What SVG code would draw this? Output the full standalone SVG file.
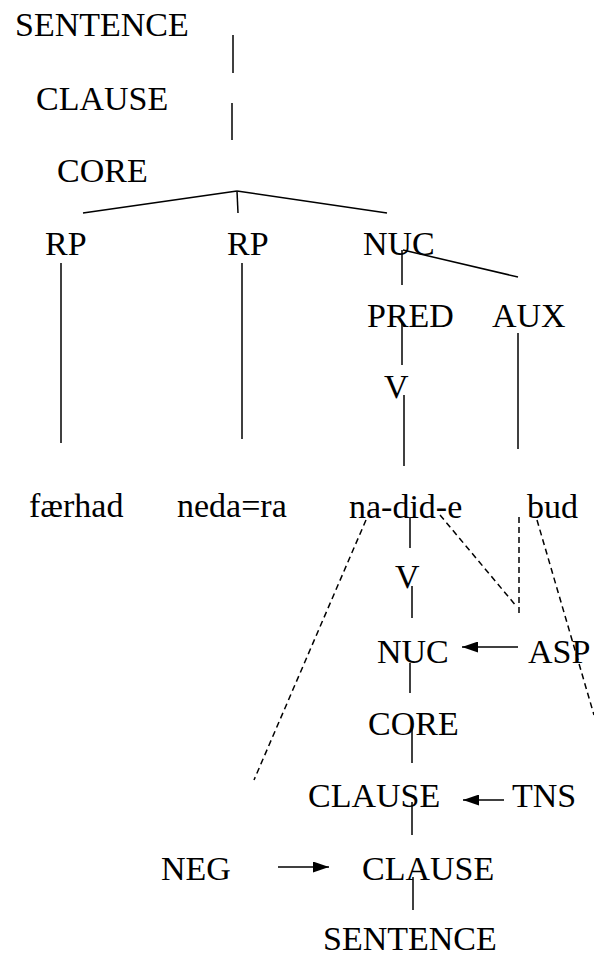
<svg xmlns="http://www.w3.org/2000/svg" width="594" height="959" viewBox="0 0 594 959">
<style>
text{font-family:"Liberation Serif","Times New Roman",serif;font-size:34px;fill:#000}
.s{stroke:#000;stroke-width:1.5;fill:none}
.d{stroke:#000;stroke-width:1.5;fill:none;stroke-dasharray:6 4}
.a{stroke:#000;stroke-width:1.5;fill:none;marker-end:url(#ah)}
</style>
<defs>
<marker id="ah" markerUnits="userSpaceOnUse" markerWidth="16" markerHeight="11" refX="16" refY="5.5" orient="auto">
<path d="M0,0 L16,5.5 L0,11 z" fill="#000"/>
</marker>
</defs>
<rect width="594" height="959" fill="#fff"/>
<g id="connectors">
<line class="s" x1="233" y1="35" x2="233" y2="73"/>
<line class="s" x1="232" y1="103" x2="232" y2="140"/>
<line class="s" x1="237" y1="191" x2="83" y2="213"/>
<line class="s" x1="237" y1="191" x2="238" y2="213"/>
<line class="s" x1="237" y1="191" x2="387" y2="213"/>
<line class="s" x1="61" y1="263" x2="61" y2="443"/>
<line class="s" x1="242" y1="263" x2="242" y2="439"/>
<line class="s" x1="402" y1="250" x2="402" y2="285"/>
<line class="s" x1="403" y1="250" x2="518" y2="277"/>
<line class="s" x1="402" y1="322" x2="402" y2="365"/>
<line class="s" x1="404" y1="395" x2="404" y2="466"/>
<line class="s" x1="518" y1="333" x2="518" y2="449"/>
<line class="s" x1="410" y1="517" x2="410" y2="548"/>
<line class="s" x1="412" y1="586" x2="412" y2="618"/>
<line class="s" x1="410" y1="663" x2="410" y2="693"/>
<line class="s" x1="412" y1="723" x2="412" y2="763"/>
<line class="s" x1="412" y1="802" x2="412" y2="835"/>
<line class="s" x1="413" y1="877" x2="413" y2="910"/>
<line class="a" x1="518" y1="647" x2="462" y2="647"/>
<line class="a" x1="504" y1="800" x2="463" y2="800"/>
<line class="a" x1="278" y1="867" x2="329" y2="867"/>
<line class="d" x1="366" y1="520" x2="254" y2="780"/>
<line class="d" x1="440" y1="515" x2="517" y2="607"/>
<line class="d" x1="519" y1="517" x2="519" y2="613"/>
<line class="d" x1="537" y1="520" x2="594" y2="715"/>
</g>
<g id="sentence1"><text x="15" y="36">SENTENCE</text></g>
<g id="clause1"><text x="36" y="110">CLAUSE</text></g>
<g id="core1"><text x="57" y="182">CORE</text></g>
<g id="rp1"><text x="45" y="255">RP</text></g>
<g id="rp2"><text x="227" y="255">RP</text></g>
<g id="nuc1"><text x="363" y="255">NUC</text></g>
<g id="pred"><text x="367" y="327">PRED</text></g>
<g id="aux"><text x="492" y="327">AUX</text></g>
<g id="v1"><text x="384" y="398">V</text></g>
<g id="faerhad"><text x="29" y="517">færhad</text></g>
<g id="nedara"><text x="177" y="517">neda=ra</text></g>
<g id="nadide"><text x="349" y="518">na-did-e</text></g>
<g id="bud"><text x="527" y="518">bud</text></g>
<g id="v2"><text x="395" y="588">V</text></g>
<g id="nuc2"><text x="377" y="663">NUC</text></g>
<g id="asp"><text x="528" y="663">ASP</text></g>
<g id="core2"><text x="368" y="735">CORE</text></g>
<g id="clause2"><text x="308" y="807">CLAUSE</text></g>
<g id="tns"><text x="512" y="807">TNS</text></g>
<g id="neg"><text x="161" y="880">NEG</text></g>
<g id="clause3"><text x="362" y="880">CLAUSE</text></g>
<g id="sentence2"><text x="323" y="950" font-size="33">SENTENCE</text></g>
</svg>
